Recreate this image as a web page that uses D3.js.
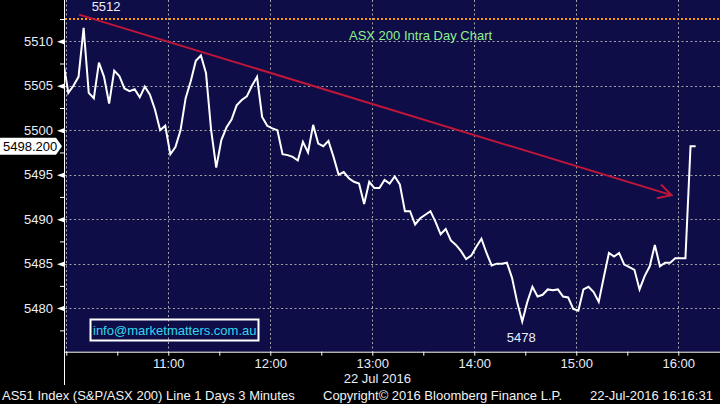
<!DOCTYPE html>
<html><head><meta charset="utf-8">
<script src="https://cdn.jsdelivr.net/npm/d3@7"></script>
<style>html,body{margin:0;padding:0;background:#000;} svg{display:block;}</style>
</head><body>
<svg id="c" width="720" height="404"></svg>
<script>
// ---------- data ----------
const firstBarTime = new Date(2016, 6, 22, 9, 58, 12); // first 3-minute bar
const barMinutes = 3;
const prices = [
  5507.7, 5504.2, 5505.0, 5506.0, 5511.5, 5504.2, 5503.6, 5507.6, 5506.0, 5503.0,
  5506.7, 5506.1, 5504.7, 5504.4, 5504.6, 5503.7, 5504.9, 5504.0, 5502.3, 5500.0,
  5500.5, 5497.3, 5498.1, 5500.0, 5503.6, 5505.5, 5507.8, 5508.4, 5506.4, 5500.0,
  5495.8, 5498.9, 5500.3, 5501.2, 5502.8, 5503.4, 5503.8, 5505.0, 5506.0, 5501.5,
  5500.5, 5500.2, 5500.0, 5497.3, 5497.2, 5497.0, 5496.6, 5498.7, 5497.5, 5500.6,
  5498.5, 5498.2, 5498.8, 5497.0, 5495.0, 5495.3, 5494.6, 5494.2, 5494.0, 5491.7,
  5494.2, 5493.5, 5493.5, 5494.4, 5494.0, 5494.8, 5493.9, 5490.9, 5490.9, 5489.4,
  5490.1, 5490.5, 5490.9, 5489.7, 5488.3, 5488.9, 5487.6, 5487.1, 5486.4, 5485.5,
  5485.9, 5486.9, 5487.8, 5486.2, 5484.8, 5485.0, 5485.0, 5485.1, 5483.4, 5480.7,
  5478.5, 5480.7, 5482.4, 5481.3, 5481.5, 5482.1, 5482.0, 5482.1, 5481.3, 5481.2,
  5479.9, 5479.7, 5482.1, 5482.4, 5481.8, 5480.7, 5483.5, 5486.2, 5485.8, 5486.2,
  5484.9, 5484.6, 5484.3, 5482.1, 5483.6, 5484.7, 5487.1, 5484.7, 5485.1, 5485.1,
  5485.6, 5485.6, 5485.6, 5498.2, 5498.2
];
const yMajorTicks = [5480, 5485, 5490, 5495, 5500, 5505, 5510];
const yMinorTicks = [5477.5, 5482.5, 5487.5, 5492.5, 5497.5, 5502.5, 5507.5, 5512.5];
const xGridHours = [10, 11, 12, 13, 14, 15, 16];
const xLabelHours = [11, 12, 13, 14, 15, 16];
const highLevel = 5512.5, highText = "5512";
const lowText = "5478";
const lastValue = 5498.2, lastText = "5498.200";
const trendStart = {h: 10, m: 7.5, v: 5513.0};
const trendEnd = {h: 15, m: 56, v: 5492.7};
const titleText = "ASX 200 Intra Day Chart";
const legendText = "info@marketmatters.com.au";
const dateText = "22 Jul 2016";
const footerLeft = "AS51 Index (S&P/ASX 200) Line 1 Days 3 Minutes";
const footerMid = "Copyright\u00A9 2016 Bloomberg Finance L.P.";
const footerRight = "22-Jul-2016 16:16:31";

// ---------- setup ----------
const day = (h, m, s) => new Date(2016, 6, 22, h, m || 0, s || 0);
const series = prices.map((v, i) => ({t: new Date(+firstBarTime + i * barMinutes * 60000), v}));
const L = 64, R = 720, T = 0, B = 351.7;
const FONT = "Liberation Sans, Arial, sans-serif";
const TXT = "#e9edf8";

const x = d3.scaleTime().domain([day(9, 58, 39), day(16, 24, 32)]).range([L, R]);
const y = d3.scaleLinear().domain([5475.1, 5514.64]).range([B, T]);

const svg = d3.select("#c");
svg.append("rect").attr("width", 720).attr("height", 404).attr("fill", "#000");
svg.append("rect").attr("x", L).attr("y", T).attr("width", R - L).attr("height", B - T).attr("fill", "#0f0d48");
svg.append("defs").append("clipPath").attr("id", "clip")
  .append("rect").attr("x", L + 1).attr("y", T).attr("width", R - L - 1).attr("height", B - T);

// grid
const grid = svg.append("g").attr("stroke", "#a3a3a3").attr("stroke-width", 1).attr("stroke-dasharray", "2,2.5").attr("fill", "none");
grid.selectAll("line.h").data(yMajorTicks).join("line").attr("class", "h")
  .attr("x1", L + 1).attr("x2", R).attr("y1", d => Math.round(y(d)) + 0.5).attr("y2", d => Math.round(y(d)) + 0.5);
grid.selectAll("line.v").data(xGridHours).join("line").attr("class", "v")
  .attr("x1", d => Math.round(x(day(d))) + 0.5).attr("x2", d => Math.round(x(day(d))) + 0.5).attr("y1", T).attr("y2", B);

// high level dotted orange line
svg.append("line").attr("x1", L + 1).attr("x2", R).attr("y1", y(highLevel)).attr("y2", y(highLevel))
  .attr("stroke", "#ff9a00").attr("stroke-width", 2).attr("stroke-dasharray", "2,2");

// title
svg.append("text").attr("x", 349).attr("y", 40).attr("fill", "#8ef08c").attr("font-family", FONT).attr("font-size", 13).text(titleText);

// trend line with arrow
const p0 = [x(day(trendStart.h, 0)) + trendStart.m * (x(day(11)) - x(day(10))) / 60, y(trendStart.v)];
const p1 = [x(day(trendEnd.h, 0)) + trendEnd.m * (x(day(11)) - x(day(10))) / 60, y(trendEnd.v)];
const ang = Math.atan2(p1[1] - p0[1], p1[0] - p0[0]);
const wing = (a) => [p1[0] - 15 * Math.cos(ang + a), p1[1] - 15 * Math.sin(ang + a)];
const w1 = wing(0.5), w2 = wing(-0.5);
const red = "#c01638";
svg.append("path").attr("d", d3.line()([p0, p1])).attr("stroke", red).attr("stroke-width", 2).attr("fill", "none");
svg.append("path").attr("d", d3.line()([w1, p1, w2])).attr("stroke", red).attr("stroke-width", 2).attr("fill", "none");

// price line
svg.append("path").datum(series).attr("clip-path", "url(#clip)")
  .attr("d", d3.line().x(d => x(d.t)).y(d => y(d.v)))
  .attr("fill", "none").attr("stroke", "#ffffff").attr("stroke-width", 2).attr("stroke-linejoin", "miter");

// high / low labels
const hiIdx = d3.maxIndex(series, d => d.v), loIdx = d3.minIndex(series, d => d.v);
svg.append("text").attr("x", x(series[hiIdx].t) + 8).attr("y", y(highLevel) - 8)
  .attr("fill", TXT).attr("font-family", FONT).attr("font-size", 13).text(highText);
svg.append("text").attr("x", x(series[loIdx].t) - 1).attr("y", y(series[loIdx].v) + 21).attr("text-anchor", "middle")
  .attr("fill", TXT).attr("font-family", FONT).attr("font-size", 13).text(lowText);

// legend box
svg.append("rect").attr("x", 90.5).attr("y", 319.5).attr("width", 168).attr("height", 21)
  .attr("fill", "none").attr("stroke", "#fff").attr("stroke-width", 2);
svg.append("text").attr("x", 93).attr("y", 335).attr("fill", "#2fd8ee").attr("font-family", FONT).attr("font-size", 13).text(legendText);

// y axis
const yAxis = svg.append("g").attr("transform", `translate(${L},0)`)
  .call(d3.axisLeft(y).tickValues(yMajorTicks).tickSize(0).tickPadding(11).tickFormat(d3.format("d")));
yAxis.select(".domain").remove();
yAxis.selectAll("text").attr("fill", TXT).attr("font-family", FONT).attr("font-size", 13);
yAxis.selectAll(".tick").append("path").attr("d", "M-7,0L0,-2.5L0,2.5Z").attr("fill", "#fff");
const yMinor = svg.append("g").attr("transform", `translate(${L},0)`)
  .call(d3.axisLeft(y).tickValues(yMinorTicks).tickSize(4).tickFormat(""));
yMinor.select(".domain").remove();
yMinor.selectAll("line").attr("stroke", "#fff");
svg.append("line").attr("x1", L + 0.5).attr("x2", L + 0.5).attr("y1", 0).attr("y2", 385).attr("stroke", "#fff");

// x axis
const xTicks = d3.timeMinute.every(30).range(day(10), day(16, 25));
const xAxis = svg.append("g").attr("transform", `translate(0,${B})`)
  .call(d3.axisBottom(x).tickValues(xTicks).tickSize(4).tickPadding(3)
    .tickFormat(d => (d.getMinutes() === 0 && xLabelHours.includes(d.getHours())) ? d3.timeFormat("%H:%M")(d) : ""));
xAxis.select(".domain").attr("stroke", "#fff");
xAxis.selectAll("line").attr("stroke", "#fff");
xAxis.selectAll("text").attr("fill", TXT).attr("font-family", FONT).attr("font-size", 13);
svg.append("text").attr("x", x(day(13, 3))).attr("y", 383).attr("text-anchor", "middle")
  .attr("fill", TXT).attr("font-family", FONT).attr("font-size", 13).text(dateText);

// last value tag
const ly = y(lastValue);
svg.append("path").attr("d", `M0,${ly - 8.5}L56,${ly - 8.5}L62,${ly}L56,${ly + 8.5}L0,${ly + 8.5}Z`).attr("fill", "#fff");
svg.append("text").attr("x", 3).attr("y", ly + 5).attr("fill", "#000").attr("font-family", FONT).attr("font-size", 13).text(lastText);

// footer
const foot = svg.append("g").attr("fill", "#f2f2f2").attr("font-family", FONT).attr("font-size", 13);
foot.append("text").attr("x", 2).attr("y", 400).text(footerLeft);
foot.append("text").attr("x", 323).attr("y", 400).text(footerMid);
foot.append("text").attr("x", 590).attr("y", 400).text(footerRight);
</script>
</body></html>
